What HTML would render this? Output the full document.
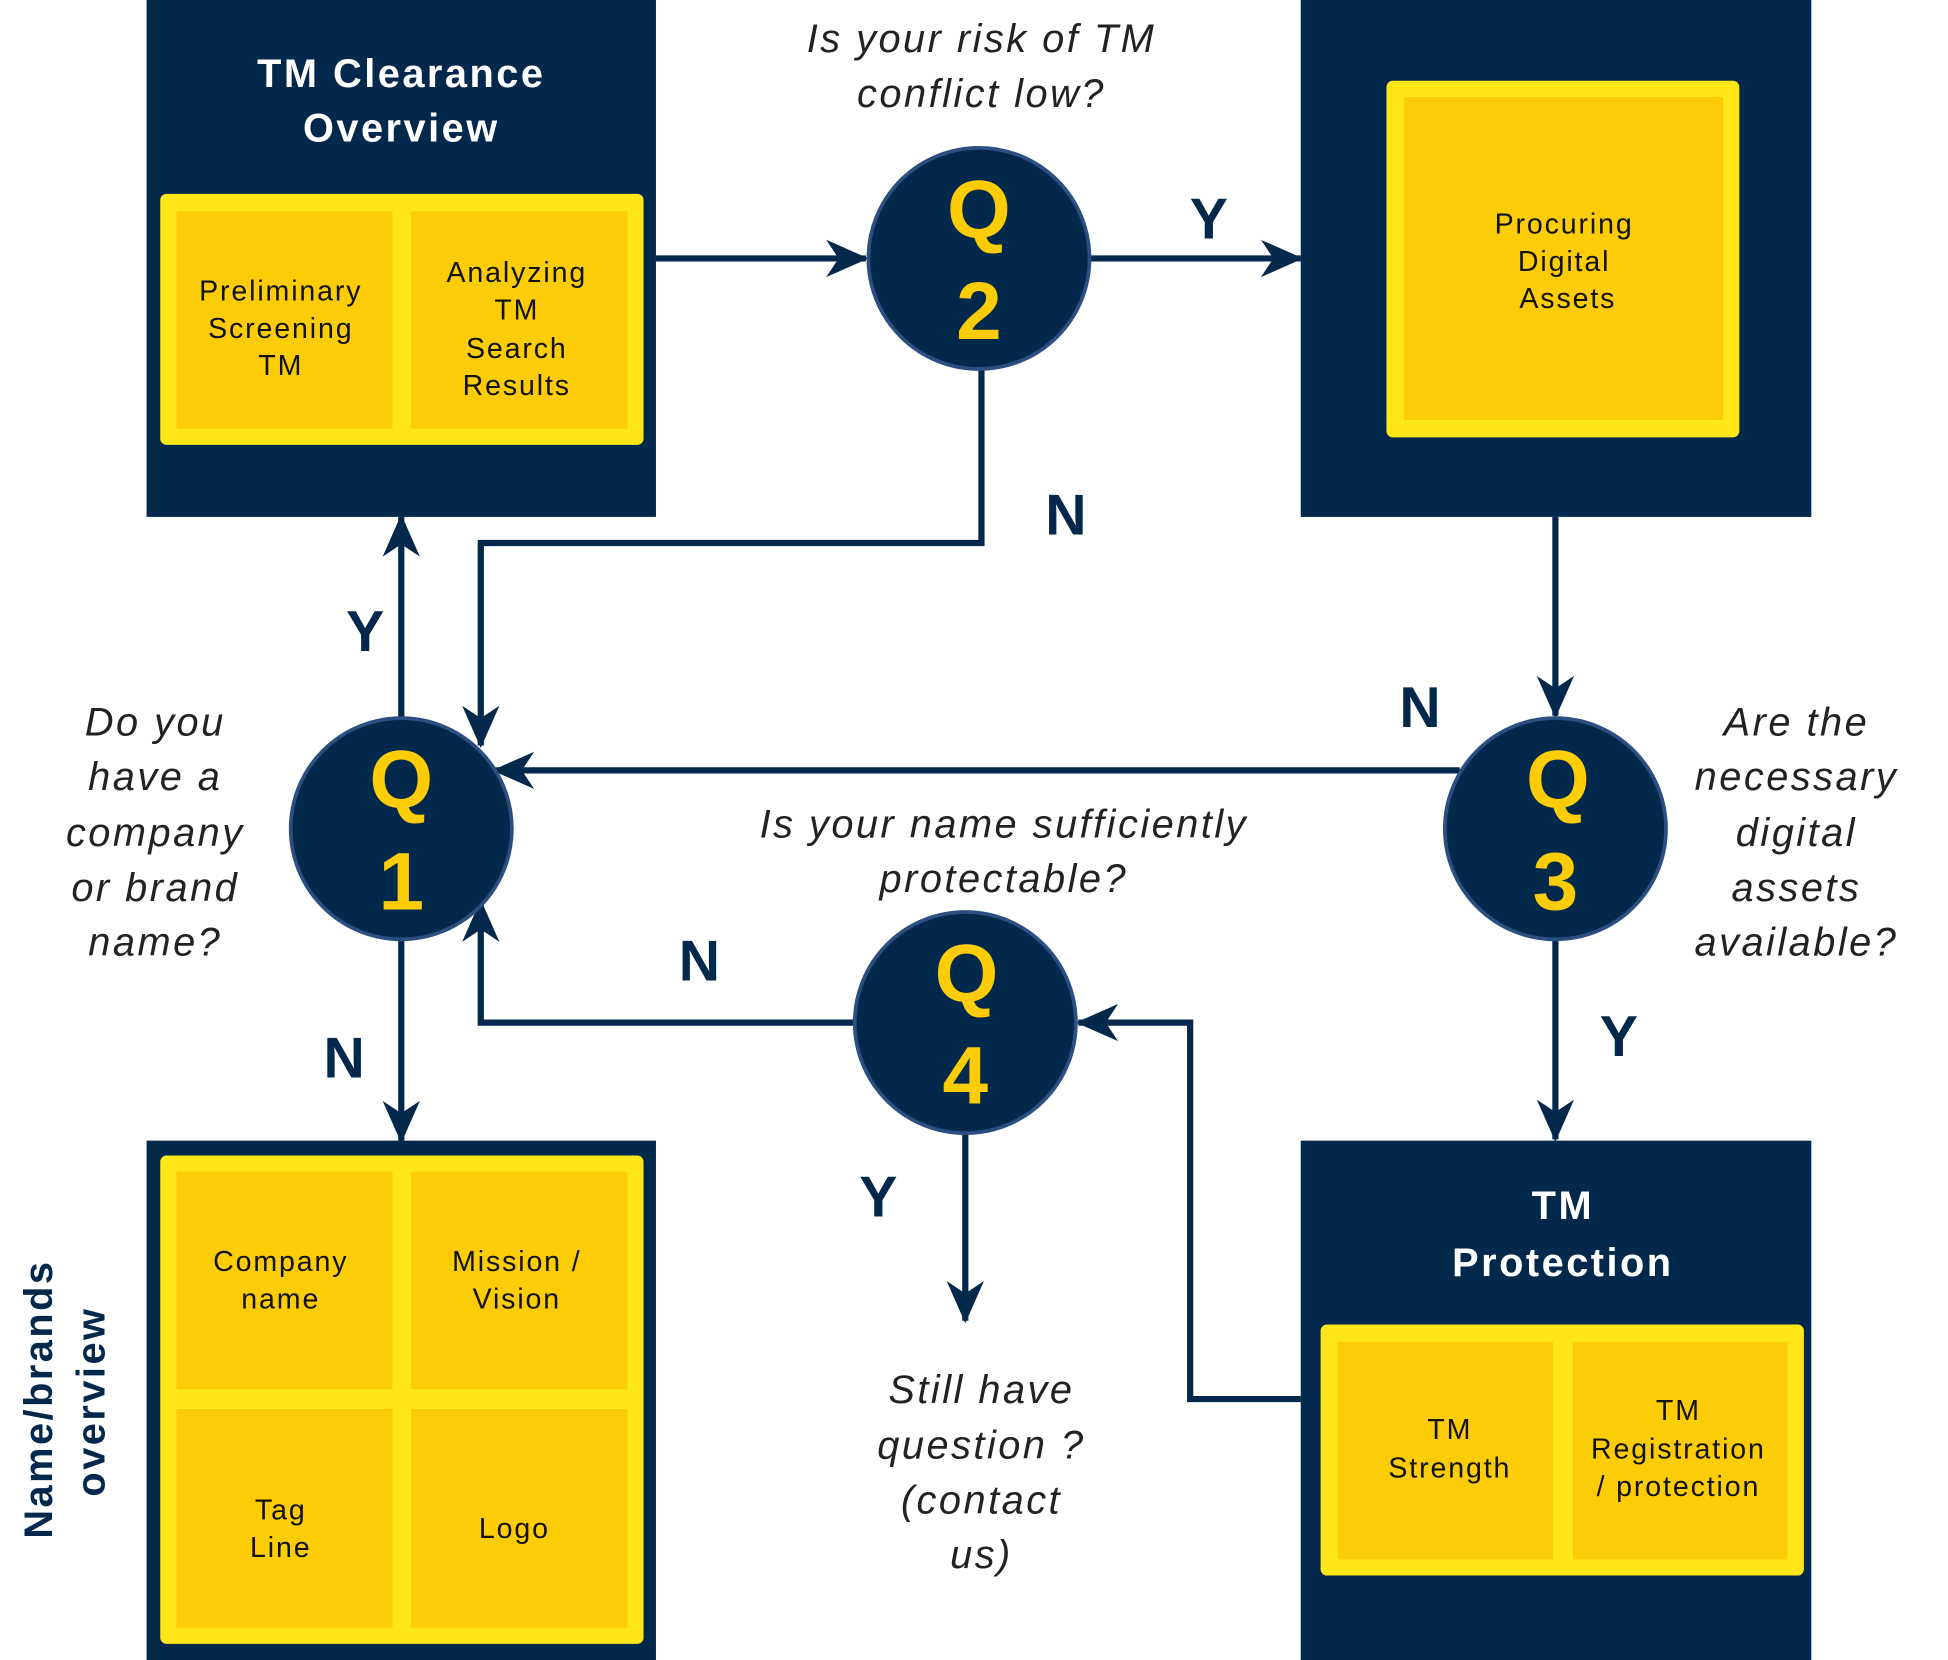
<!DOCTYPE html>
<html><head><meta charset="utf-8"><style>
html,body{margin:0;padding:0;background:#fff;width:1948px;height:1660px;overflow:hidden}
svg{display:block}
.q{font-family:"Liberation Sans",sans-serif;font-style:italic;font-size:32px;fill:#222;letter-spacing:2px}
.c{font-family:"Liberation Sans",sans-serif;font-size:23px;fill:#111;letter-spacing:1.5px}
.t{font-family:"Liberation Sans",sans-serif;font-weight:bold;font-size:32px;fill:#fff;letter-spacing:2px}
.yn{font-family:"Liberation Sans",sans-serif;font-weight:bold;font-size:46px;fill:#02284c}
.qn{font-family:"Liberation Sans",sans-serif;font-weight:bold;font-size:66px;fill:#fccc06}
</style></head><body>
<svg width="1948" height="1660" viewBox="0 0 1568 1336" preserveAspectRatio="none">
<defs><marker id="ah" markerUnits="userSpaceOnUse" markerWidth="34" markerHeight="34" viewBox="0 0 34 34" refX="32" refY="17" orient="auto"><path d="M0,2 L34,17 L0,32 L10,17 Z" fill="#02284c"/></marker></defs>
<g fill="none" stroke="#02284c" stroke-width="5">
<path d="M528,208 H697" marker-end="url(#ah)"/>
<path d="M878,208 H1047" marker-end="url(#ah)"/>
<path d="M790,298 V437 H387 V600" marker-end="url(#ah)"/>
<path d="M1252,416 V576" marker-end="url(#ah)"/>
<path d="M1175,620 H398" marker-end="url(#ah)"/>
<path d="M1252,757 V917" marker-end="url(#ah)"/>
<path d="M323,577 V416" marker-end="url(#ah)"/>
<path d="M323,757 V918" marker-end="url(#ah)"/>
<path d="M688,823 H387 V726" marker-end="url(#ah)"/>
<path d="M1047,1126 H958 V823 H868" marker-end="url(#ah)"/>
<path d="M777,913 V1063" marker-end="url(#ah)"/>
</g>
<g>
<rect x="118" y="0" width="410" height="416" fill="#02284c"/>
<text class="t" x="323" y="70" text-anchor="middle">TM Clearance</text>
<text class="t" x="323" y="114" text-anchor="middle">Overview</text>
<rect x="129" y="156" width="389" height="202" rx="5" fill="#ffe617"/>
<rect x="142" y="170" width="174" height="175" fill="#fccc06"/>
<rect x="331" y="170" width="174" height="175" fill="#fccc06"/>
<text class="c" text-anchor="middle"><tspan x="226" y="242">Preliminary</tspan><tspan x="226" y="272">Screening</tspan><tspan x="226" y="302">TM</tspan></text>
<text class="c" text-anchor="middle"><tspan x="416" y="227">Analyzing</tspan><tspan x="416" y="257">TM</tspan><tspan x="416" y="288">Search</tspan><tspan x="416" y="318">Results</tspan></text>
</g>
<g>
<rect x="1047" y="0" width="411" height="416" fill="#02284c"/>
<rect x="1116" y="65" width="284" height="287" rx="5" fill="#ffe617"/>
<rect x="1130" y="78" width="257" height="260" fill="#fccc06"/>
<text class="c" text-anchor="middle"><tspan x="1259" y="188">Procuring</tspan><tspan x="1259" y="218">Digital</tspan><tspan x="1262" y="248">Assets</tspan></text>
</g>
<g>
<rect x="118" y="918" width="410" height="418" fill="#02284c"/>
<rect x="129" y="930" width="389" height="393" rx="5" fill="#ffe617"/>
<rect x="142" y="943" width="174" height="175" fill="#fccc06"/>
<rect x="331" y="943" width="174" height="175" fill="#fccc06"/>
<rect x="142" y="1134" width="174" height="176" fill="#fccc06"/>
<rect x="331" y="1134" width="174" height="176" fill="#fccc06"/>
<text class="c" text-anchor="middle"><tspan x="226" y="1023">Company</tspan><tspan x="226" y="1053">name</tspan></text>
<text class="c" text-anchor="middle"><tspan x="416" y="1023">Mission /</tspan><tspan x="416" y="1053">Vision</tspan></text>
<text class="c" text-anchor="middle"><tspan x="226" y="1223">Tag</tspan><tspan x="226" y="1253">Line</tspan></text>
<text class="c" text-anchor="middle" x="414" y="1238">Logo</text>
</g>
<g>
<rect x="1047" y="918" width="411" height="418" fill="#02284c"/>
<text class="t" x="1258" y="981" text-anchor="middle">TM</text>
<text class="t" x="1258" y="1027" text-anchor="middle">Protection</text>
<rect x="1063" y="1066" width="389" height="202" rx="5" fill="#ffe617"/>
<rect x="1077" y="1080" width="173" height="175" fill="#fccc06"/>
<rect x="1266" y="1080" width="173" height="175" fill="#fccc06"/>
<text class="c" text-anchor="middle"><tspan x="1167" y="1158">TM</tspan><tspan x="1167" y="1189">Strength</tspan></text>
<text class="c" text-anchor="middle"><tspan x="1351" y="1143">TM</tspan><tspan x="1351" y="1174">Registration</tspan><tspan x="1351" y="1204">/ protection</tspan></text>
</g>
<g>
<g><circle cx="323" cy="667" r="89" fill="#02284c" stroke="#2a4f80" stroke-width="3"/><text class="qn" x="323" y="650" text-anchor="middle">Q</text><text class="qn" x="323" y="732" text-anchor="middle">1</text></g>
<g><circle cx="788" cy="208" r="89" fill="#02284c" stroke="#2a4f80" stroke-width="3"/><text class="qn" x="788" y="191" text-anchor="middle">Q</text><text class="qn" x="788" y="273" text-anchor="middle">2</text></g>
<g><circle cx="1252" cy="667" r="89" fill="#02284c" stroke="#2a4f80" stroke-width="3"/><text class="qn" x="1254" y="650" text-anchor="middle">Q</text><text class="qn" x="1252" y="732" text-anchor="middle">3</text></g>
<g><circle cx="777" cy="823" r="89" fill="#02284c" stroke="#2a4f80" stroke-width="3"/><text class="qn" x="778" y="806" text-anchor="middle">Q</text><text class="qn" x="777" y="888" text-anchor="middle">4</text></g>
</g>
<g>
<text class="yn" x="973" y="192" text-anchor="middle">Y</text>
<text class="yn" x="858" y="430" text-anchor="middle">N</text>
<text class="yn" x="294" y="524" text-anchor="middle">Y</text>
<text class="yn" x="1143" y="585" text-anchor="middle">N</text>
<text class="yn" x="277" y="867" text-anchor="middle">N</text>
<text class="yn" x="563" y="789" text-anchor="middle">N</text>
<text class="yn" x="1303" y="850" text-anchor="middle">Y</text>
<text class="yn" x="707" y="979" text-anchor="middle">Y</text>
</g>
<g>
<text class="q" text-anchor="middle"><tspan x="790" y="42">Is your risk of TM</tspan><tspan x="790" y="86">conflict low?</tspan></text>
<text class="q" text-anchor="middle"><tspan x="125" y="592">Do you</tspan><tspan x="125" y="636">have a</tspan><tspan x="125" y="681">company</tspan><tspan x="125" y="725">or brand</tspan><tspan x="125" y="769">name?</tspan></text>
<text class="q" text-anchor="middle"><tspan x="1446" y="592">Are the</tspan><tspan x="1446" y="636">necessary</tspan><tspan x="1446" y="681">digital</tspan><tspan x="1446" y="725">assets</tspan><tspan x="1446" y="769">available?</tspan></text>
<text class="q" text-anchor="middle"><tspan x="808" y="674">Is your name sufficiently</tspan><tspan x="808" y="718">protectable?</tspan></text>
<text class="q" text-anchor="middle"><tspan x="790" y="1129">Still have</tspan><tspan x="790" y="1174">question ?</tspan><tspan x="790" y="1218">(contact</tspan><tspan x="790" y="1262">us)</tspan></text>
</g>
<g transform="rotate(-90)">
<text x="-1126" y="42" text-anchor="middle" style="font-family:'Liberation Sans',sans-serif;font-weight:bold;font-size:32px;fill:#02284c;letter-spacing:2px">Name/brands</text>
<text x="-1128" y="84" text-anchor="middle" style="font-family:'Liberation Sans',sans-serif;font-weight:bold;font-size:32px;fill:#02284c;letter-spacing:2px">overview</text>
</g>
</svg>
</body></html>
